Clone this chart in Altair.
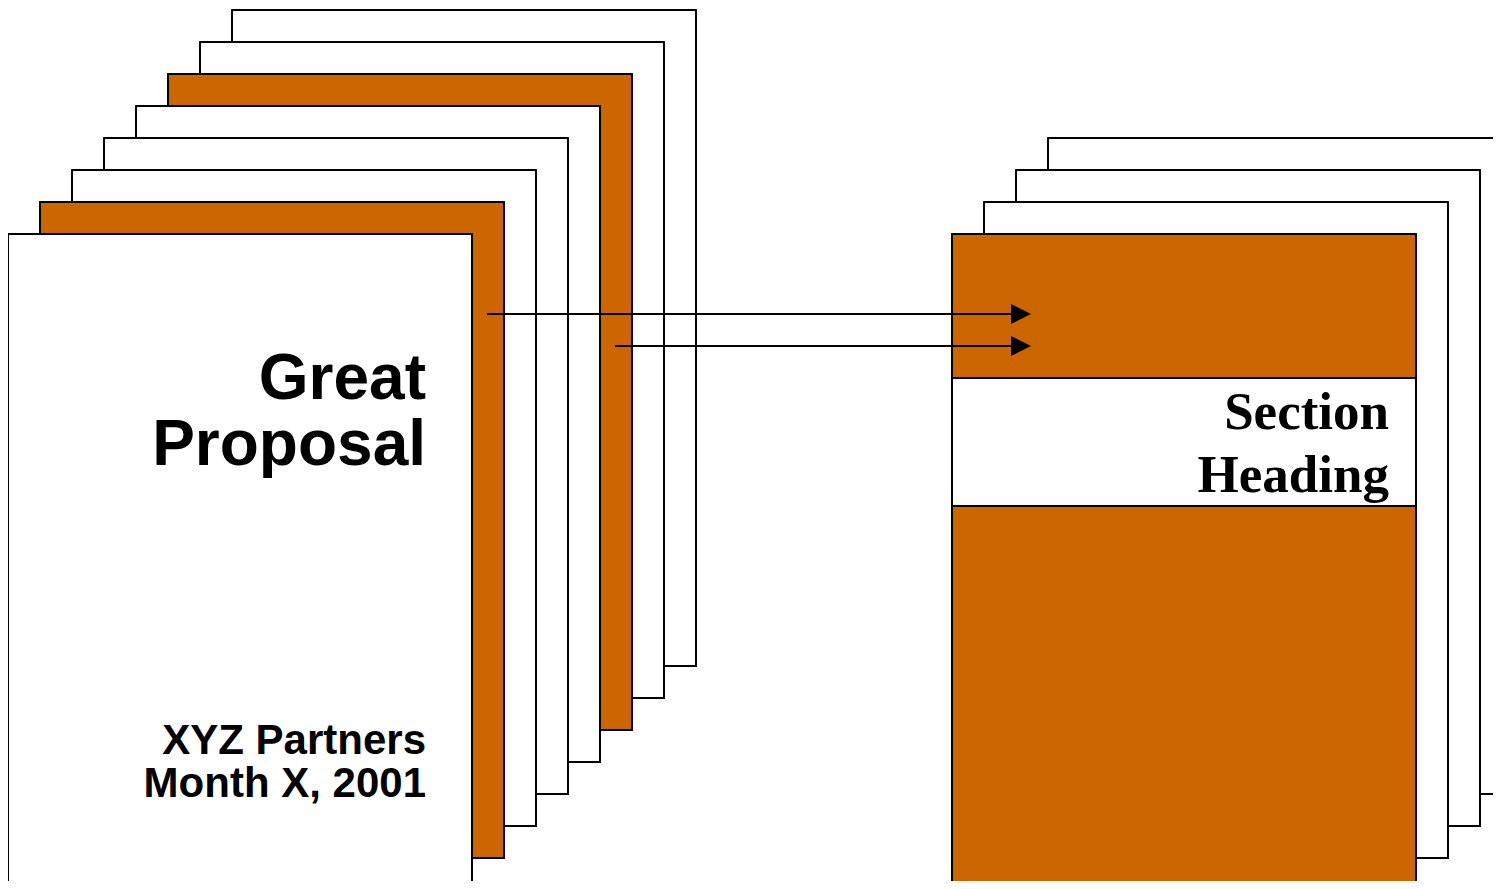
import altair as alt
import pandas as pd

ORANGE = "#CC6600"

# Left stack of pages (back to front): left edge, top edge, fill
left_x0 = [232, 200, 168, 136, 104, 72, 40, 8]
left_y0 = [10, 42, 74, 106, 138, 170, 202, 234]
left_fill = ["white", "white", ORANGE, "white", "white", "white", ORANGE, "white"]

# Right stack of pages (back to front)
right_x0 = [1048, 1016, 984, 952]
right_y0 = [138, 170, 202, 234]
right_fill = ["white", "white", "white", ORANGE]

PAGE_W = 464
PAGE_H = 656

# White heading band on the front right page
band_x = [952]
band_x2 = [1416]
band_y = [378]
band_y2 = [506]

# Arrows
arrow_x0 = [487, 615]
arrow_x1 = [1011, 1011]
arrow_tip = [1021, 1021]
arrow_y = [314, 346]

# Texts
title_lines = ["Great", "Proposal"]
title_y = [399, 465]
sub_lines = ["XYZ Partners", "Month X, 2001"]
sub_y = [754, 797]
section_lines = ["Section", "Heading"]
section_y = [429, 492]

left_df = pd.DataFrame({
    "x": left_x0, "y": left_y0,
    "x2": [v + PAGE_W for v in left_x0], "y2": [v + PAGE_H for v in left_y0],
    "fill": left_fill, "o": list(range(len(left_x0))),
})
right_df = pd.DataFrame({
    "x": right_x0, "y": right_y0,
    "x2": [v + PAGE_W for v in right_x0], "y2": [v + PAGE_H for v in right_y0],
    "fill": right_fill, "o": list(range(len(right_x0))),
})
band_df = pd.DataFrame({"x": band_x, "x2": band_x2, "y": band_y, "y2": band_y2})
arrow_df = pd.DataFrame({"x": arrow_x0, "x2": arrow_x1, "tip": arrow_tip, "y": arrow_y})
title_df = pd.DataFrame({"t": title_lines, "y": title_y, "x": [426, 426]})
sub_df = pd.DataFrame({"t": sub_lines, "y": sub_y, "x": [426, 426]})
sec_df = pd.DataFrame({"t": section_lines, "y": section_y, "x": [1389, 1389]})

xs = alt.Scale(domain=[8, 1493], nice=False, zero=False)
ys = alt.Scale(domain=[8, 881], nice=False, zero=False, reverse=True)
X = lambda f="x": alt.X(f"{f}:Q", scale=xs, axis=None)
Y = lambda f="y": alt.Y(f"{f}:Q", scale=ys, axis=None)

def pages(df):
    return alt.Chart(df).mark_rect(stroke="black", strokeWidth=2, clip=True).encode(
        x=X(), x2="x2:Q", y=Y(), y2="y2:Q",
        fill=alt.Fill("fill:N", scale=None),
        order=alt.Order("o:Q"),
    )

left = pages(left_df)
right = pages(right_df)
band = alt.Chart(band_df).mark_rect(stroke="black", strokeWidth=2, fill="white").encode(
    x=X(), x2="x2:Q", y=Y(), y2="y2:Q"
)
rules = alt.Chart(arrow_df).mark_rule(color="black", strokeWidth=2).encode(
    x=X(), x2="x2:Q", y=Y()
)
heads = alt.Chart(arrow_df).mark_point(
    shape="M-1,-1L1,0L-1,1Z", size=400, filled=True, color="black", opacity=1, strokeWidth=0
).encode(x=X("tip"), y=Y())

def texts(df, font, size):
    return alt.Chart(df).mark_text(
        font=font, fontSize=size, fontWeight="bold", align="right",
        baseline="alphabetic", color="black"
    ).encode(x=X(), y=Y(), text="t:N")

chart = alt.layer(
    left, right, band, rules, heads,
    texts(title_df, "Liberation Sans", 64),
    texts(sub_df, "Liberation Sans", 42),
    texts(sec_df, "Liberation Serif", 53),
).properties(
    width=1485, height=873, padding=0, autosize=alt.AutoSizeParams(type="none"),
    background="white",
).configure_view(stroke=None)

chart.save("out.html", embed_options={"renderer": "svg", "actions": False})
